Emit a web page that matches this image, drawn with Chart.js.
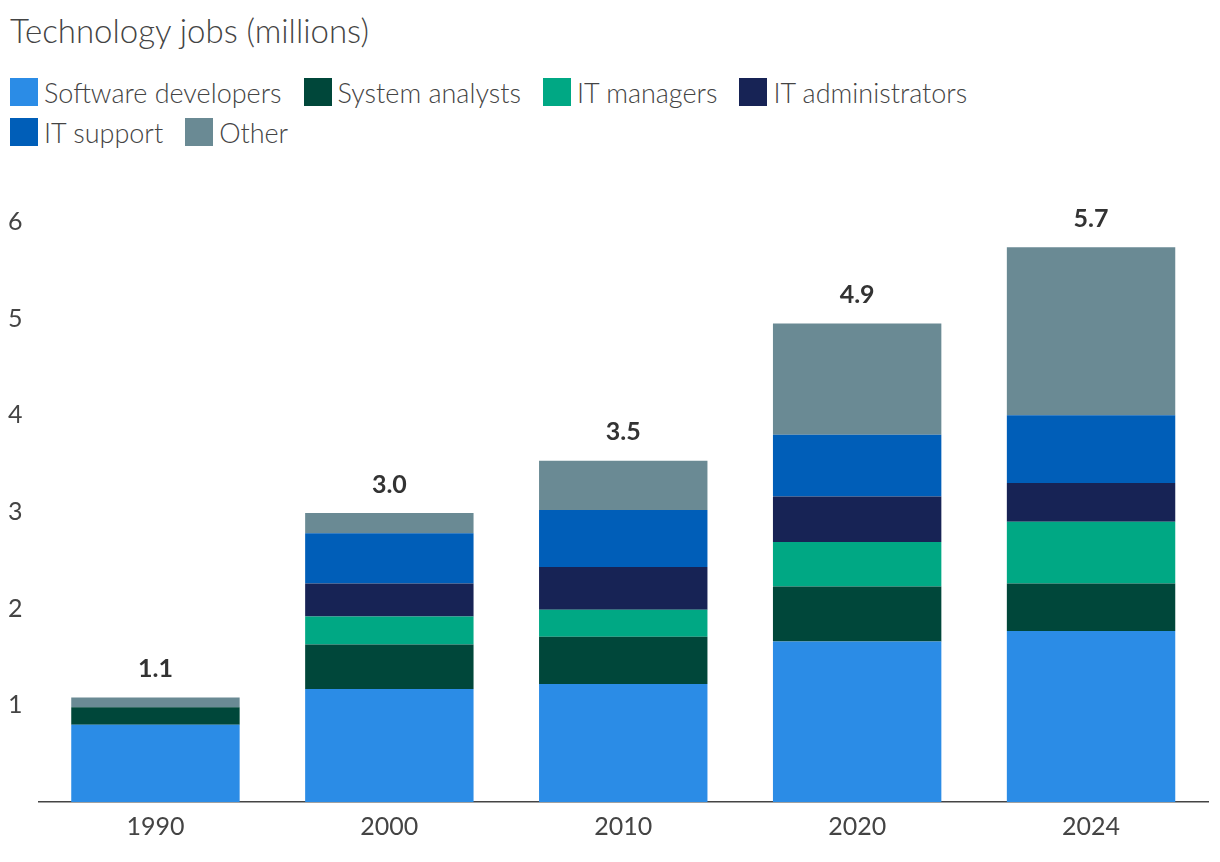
<!DOCTYPE html><html><head><meta charset="utf-8">
<script src="https://cdn.jsdelivr.net/npm/chart.js@4/dist/chart.umd.min.js"></script>
<style>
body{margin:0;width:1220px;height:862px;background:#fff;font-family:Lato,"Noto Sans",sans-serif;color:#333;overflow:hidden}
#title{position:absolute;left:10px;top:10px;font-size:33px;font-weight:300;color:#444}
#legend{position:absolute;left:10px;top:72px;width:1100px;display:flex;flex-wrap:wrap;font-size:27px;font-weight:300;color:#444}
.it{display:flex;align-items:center;margin-right:22px;height:40px}
.sw{width:28px;height:28px;margin-right:6px}
#wrap{position:absolute;left:0;top:170px;width:1220px;height:692px}
</style></head><body>
<div id="title">Technology jobs (millions)</div>
<div id="legend"></div>
<div id="wrap"><canvas id="c"></canvas></div>
<script>
const categories=["1990","2000","2010","2020","2024"];
const softwareDevelopers=[0.8,1.17,1.22,1.66,1.77];
const systemAnalysts=[0.18,0.46,0.49,0.57,0.49];
const itManagers=[0,0.29,0.28,0.46,0.64];
const itAdministrators=[0,0.34,0.44,0.47,0.40];
const itSupport=[0,0.52,0.59,0.64,0.70];
const other=[0.1,0.21,0.51,1.15,1.74];
const totalLabels=["1.1","3.0","3.5","4.9","5.7"];
const series=[["Software developers",softwareDevelopers,"#2b8ce6"],["System analysts",systemAnalysts,"#00473a"],["IT managers",itManagers,"#00a884"],["IT administrators",itAdministrators,"#172355"],["IT support",itSupport,"#005eb8"],["Other",other,"#6a8a94"]];
const lg=document.getElementById('legend');
series.forEach((s,i)=>{const d=document.createElement('div');d.className='it';d.innerHTML=`<span class="sw" style="background:${s[2]}"></span>${s[0]}`;lg.appendChild(d);if(i==3){const b=document.createElement('div');b.style.flexBasis='100%';b.style.height='0';lg.appendChild(b);}});
const totals={id:'totals',afterDatasetsDraw(ch){const ctx=ch.ctx;const meta=ch.getDatasetMeta(5);ctx.save();ctx.font='bold 25px Lato';ctx.fillStyle='#333';ctx.textAlign='center';ctx.textBaseline='bottom';meta.data.forEach((b,i)=>{ctx.fillText(totalLabels[i],b.x,b.y-16);});ctx.restore();}};
new Chart(document.getElementById('c'),{type:'bar',data:{labels:categories,datasets:series.map(s=>({label:s[0],data:s[1],backgroundColor:s[2],borderWidth:0}))},
options:{responsive:true,maintainAspectRatio:false,animation:false,layout:{padding:{left:0,right:12,top:0,bottom:10}},
plugins:{legend:{display:false},tooltip:{enabled:false}},
scales:{x:{stacked:true,categoryPercentage:0.7,barPercentage:1,grid:{display:false,drawTicks:false},border:{color:'#444',width:1.5},ticks:{color:'#444',font:{family:'Lato',size:25},padding:10}},
y:{stacked:true,min:0,max:6.3,afterBuildTicks(a){a.ticks=[0,1,2,3,4,5,6].map(v=>({value:v}));},grid:{display:false},border:{display:false},ticks:{color:'#444',font:{family:'Lato',size:25},padding:8,callback:v=>v===0?'':v}}}},
plugins:[totals]});
</script></body></html>
